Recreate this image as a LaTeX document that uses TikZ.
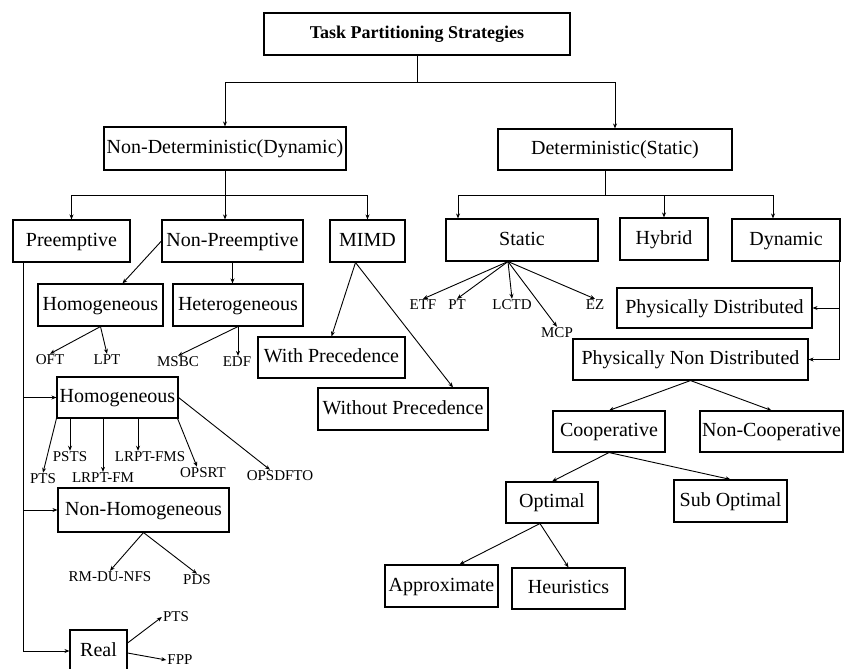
\documentclass[tikz,border=0pt]{standalone}
\usepackage{fontspec}
\setmainfont{Liberation Serif}
\usetikzlibrary{positioning, arrows.meta}

\begin{document}
\begin{tikzpicture}[x=1pt, y=-1pt,
    box/.style={draw, line width=1.1pt, minimum height=42pt, inner sep=2pt, text height=14pt, text depth=4pt, font=\fontsize{20}{22}\selectfont},
    leaf/.style={inner sep=1pt, font=\fontsize{15}{16}\selectfont},
    arrow/.style={-{Stealth[length=5pt, width=4pt]}, line width=0.9pt},
    link/.style={line width=0.9pt}
]
    \useasboundingbox (0,0) rectangle (844,669);

    % Root and first level
    \node[box, minimum width=306pt, font=\fontsize{18}{20}\selectfont\bfseries] (task) at (417,34) {Task Partitioning Strategies};
    \node[box, minimum width=242pt, minimum height=43pt] (nd) at (225,148.5) {Non-Deterministic(Dynamic)};
    \node[box, minimum width=234pt, minimum height=41pt] (det) at (615,149.5) {Deterministic(Static)};

    % Non-deterministic branch
    \node[box, minimum width=117pt] (pre) at (71.5,241) {Preemptive};
    \node[box, minimum width=141pt] (npre) at (232.5,241) {Non-Preemptive};
    \node[box, minimum width=75pt] (mimd) at (367.5,241) {MIMD};
    \node[box, minimum width=125pt] (homA) at (100.5,305) {Homogeneous};
    \node[box, minimum width=130pt] (het) at (238,305) {Heterogeneous};
    \node[box, minimum width=147pt, minimum height=41pt] (withp) at (331.5,357.5) {With Precedence};
    \node[box, minimum width=170pt] (withoutp) at (403,409) {Without Precedence};
    \node[box, minimum width=121pt, minimum height=41pt] (homB) at (117.5,397.5) {Homogeneous};
    \node[box, minimum width=171pt, minimum height=44pt] (nonhom) at (143.5,510) {Non-Homogeneous};
    \node[box, minimum width=57pt] (real) at (98.5,651) {Real};

    % Deterministic branch
    \node[box, minimum width=152pt] (static) at (522,240) {Static};
    \node[box, minimum width=88pt] (hybrid) at (664,239) {Hybrid};
    \node[box, minimum width=108pt] (dyn) at (786,240) {Dynamic};
    \node[box, minimum width=195pt, minimum height=40pt] (pd) at (714.5,308) {Physically Distributed};
    \node[box, minimum width=235pt, minimum height=41pt] (pnd) at (690.5,359.5) {Physically Non Distributed};
    \node[box, minimum width=112pt, minimum height=41pt] (coop) at (609,431.5) {Cooperative};
    \node[box, minimum width=143pt, minimum height=41pt] (ncoop) at (771.5,431.5) {Non-Cooperative};
    \node[box, minimum width=92pt, minimum height=41pt] (opt) at (552,502.5) {Optimal};
    \node[box, minimum width=113pt] (subopt) at (730.5,501) {Sub Optimal};
    \node[box, minimum width=113pt] (approx) at (441.5,586) {Approximate};
    \node[box, minimum width=113pt, minimum height=41pt] (heur) at (568.5,588.5) {Heuristics};

    % Leaf labels
    \node[leaf] (oft) at (50,360) {OFT};
    \node[leaf] (lpt) at (107,360) {LPT};
    \node[leaf] (msbc) at (178,362) {MSBC};
    \node[leaf] (edf) at (237,362) {EDF};
    \node[leaf] (pts1) at (43,479) {PTS};
    \node[leaf] (psts) at (70,457) {PSTS};
    \node[leaf] (lrptfm) at (103,478) {LRPT-FM};
    \node[leaf] (lrptfms) at (150,457) {LRPT-FMS};
    \node[leaf] (opsrt) at (203,473) {OPSRT};
    \node[leaf] (opsdfto) at (280,476) {OPSDFTO};
    \node[leaf] (rmdu) at (110,577) {RM-DU-NFS};
    \node[leaf] (pds) at (197,580) {PDS};
    \node[leaf] (pts2) at (176,617) {PTS};
    \node[leaf] (fpp) at (180,660) {FPP};
    \node[leaf] (etf) at (423,305) {ETF};
    \node[leaf] (pt) at (457,305) {PT};
    \node[leaf] (lctd) at (512,305) {LCTD};
    \node[leaf] (mcp) at (557,333) {MCP};
    \node[leaf] (ez) at (595,305) {EZ};

    % Top level links
    \coordinate (j1) at (417,82);
    \draw[link] (task.south) -- (j1);
    \draw[arrow] (j1) -| (nd.north);
    \draw[arrow] (j1) -| (det.north);

    % Non-deterministic links
    \coordinate (j2) at (225,195);
    \draw[link] (nd.south) -- (j2);
    \draw[arrow] (j2) -| (pre.north);
    \draw[arrow] (j2) -- (j2 |- npre.north);
    \draw[arrow] (j2) -| (mimd.north);

    \coordinate (pl) at ([xshift=-48pt]pre.south);
    \draw[arrow] (pl) |- (homB.west);
    \draw[arrow] (pl) |- (nonhom.west);
    \draw[arrow] (pl) |- (real.west);

    \draw[arrow] (npre.west) -- ([xshift=22pt]homA.north);
    \draw[arrow] (npre.south) -- (npre.south |- het.north);
    \draw[arrow] (homA.south) -- (oft.north);
    \draw[arrow] (homA.south) -- (lpt.north);
    \draw[arrow] (het.south) -- (msbc.north);
    \draw[arrow] (het.south) -- (het.south |- edf.north);

    \coordinate (mroot) at ([xshift=-12pt]mimd.south);
    \draw[arrow] (mroot) -- (withp.north);
    \draw[arrow] (mroot) -- ([xshift=50pt]withoutp.north);

    \coordinate (fmstip) at ([xshift=-12pt]lrptfms.north);
    \draw[arrow] (homB.south west) -- (pts1.north);
    \draw[arrow] (psts.north |- homB.south) -- (psts.north);
    \draw[arrow] (lrptfm.north |- homB.south) -- (lrptfm.north);
    \draw[arrow] (fmstip |- homB.south) -- (fmstip);
    \draw[arrow] ([xshift=-1pt]homB.south east) -- ([xshift=-6pt]opsrt.north);
    \draw[arrow] (homB.east) -- ([xshift=-10pt]opsdfto.north);

    \draw[arrow] (nonhom.south) -- (rmdu.north);
    \draw[arrow] (nonhom.south) -- (pds.north);
    \draw[arrow] ([yshift=8pt]real.east) -- (pts2.west);
    \draw[arrow] ([yshift=-2pt]real.east) -- (fpp.west);

    % Deterministic links
    \coordinate (j3) at (605,195);
    \draw[link] (j3 |- det.south) -- (j3);
    \draw[arrow] (j3) -| ([xshift=-64pt]static.north);
    \draw[arrow] (j3) -| (hybrid.north);
    \draw[arrow] (j3) -| ([xshift=-13pt]dyn.north);

    \coordinate (sroot) at ([xshift=-14pt]static.south);
    \draw[arrow] (sroot) -- (etf.north);
    \draw[arrow] (sroot) -- (pt.north);
    \draw[arrow] (sroot) -- (lctd.north);
    \draw[arrow] (sroot) -- (mcp.north);
    \draw[arrow] (sroot) -- (ez.north);

    \coordinate (dr) at ([xshift=-1pt]dyn.south east);
    \draw[arrow] (dr) |- (pd.east);
    \draw[arrow] (dr) |- (pnd.east);

    \draw[arrow] (pnd.south) -- (coop.north);
    \draw[arrow] (pnd.south) -- (ncoop.north);
    \draw[arrow] (coop.south) -- (opt.north);
    \draw[arrow] (coop.south) -- (subopt.north);
    \draw[arrow] ([xshift=-12pt]opt.south) -- ([xshift=18pt]approx.north);
    \draw[arrow] ([xshift=-12pt]opt.south) -- (heur.north);

\end{tikzpicture}
\end{document}
